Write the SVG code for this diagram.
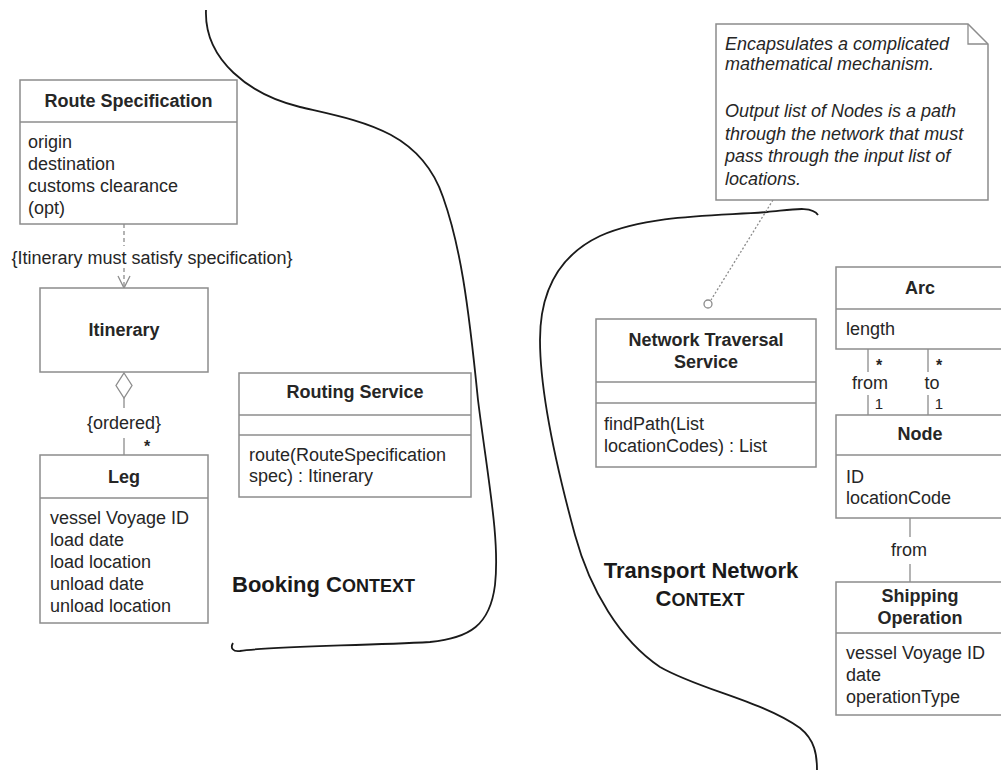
<svg xmlns="http://www.w3.org/2000/svg" width="1001" height="770" viewBox="0 0 1001 770">
<defs>
<style>
.box{fill:#fff;stroke:#8c8c8c;stroke-width:1.5}
.div{stroke:#8c8c8c;stroke-width:1.5}
.t{font-family:"Liberation Sans",Arial,sans-serif;font-size:18px;fill:#262626}
.b{font-weight:bold}
.c{text-anchor:middle}
.i{font-style:italic}
.m{font-family:"Liberation Sans",Arial,sans-serif;font-size:15px;fill:#262626;text-anchor:middle}
.st{font-weight:bold;font-size:16px}
.ctx{font-family:"Liberation Sans",Arial,sans-serif;font-size:22px;font-weight:bold;fill:#1a1a1a}
.ln{stroke:#8c8c8c;stroke-width:1.3;fill:none}
.curve{stroke:#1a1a1a;stroke-width:1.8;fill:none}
</style>
<marker id="open" markerWidth="16" markerHeight="14" refX="13" refY="7" orient="auto" markerUnits="userSpaceOnUse">
<path d="M1,1 L13,7 L1,13" fill="none" stroke="#8c8c8c" stroke-width="1.3"/>
</marker>
</defs>
<rect width="1001" height="770" fill="#fff"/>

<g id="boundaries">
<path class="curve" d="M206,10 C204,60 250,95 300,107 C360,121 420,130 443,197 C460,245 468,300 478,400 C488,480 500,540 495,585 C490,625 470,638 430,642 C360,646 270,646 240,651 C233,652 230,648 233,643"/>
<path class="curve" d="M818,215 C812,205 790,210 767,212 C720,216 650,214 600,236 C560,255 540,290 540,340 C540,400 560,480 575,535 C590,590 620,640 660,667 C700,690 760,700 800,728 C815,740 817,755 817,770"/>
</g>

<g id="connectors">
<line class="ln" x1="124" y1="224" x2="124" y2="246" stroke-dasharray="4,3"/>
<line class="ln" x1="124" y1="268" x2="124" y2="288" stroke-dasharray="4,3" marker-end="url(#open)"/>
<text class="t c" x="152" y="264">{Itinerary must satisfy specification}</text>
<path class="ln" d="M124,373 L132,385.5 L124,398 L116,385.5 Z" fill="#fff"/>
<line class="ln" x1="124" y1="398" x2="124" y2="408"/>
<text class="t c" x="124" y="429">{ordered}</text>
<line class="ln" x1="124" y1="438" x2="124" y2="455"/>
<text class="m st" x="147" y="452">*</text>
<line class="ln" x1="868" y1="349" x2="868" y2="372"/>
<line class="ln" x1="868" y1="395" x2="868" y2="415"/>
<text class="m st" x="879" y="371">*</text>
<text class="t c" x="870" y="389">from</text>
<text class="m" x="879" y="409">1</text>
<line class="ln" x1="928" y1="349" x2="928" y2="372"/>
<line class="ln" x1="928" y1="395" x2="928" y2="415"/>
<text class="m st" x="939" y="371">*</text>
<text class="t c" x="932" y="389">to</text>
<text class="m" x="939" y="409">1</text>
<line class="ln" x1="910" y1="518" x2="910" y2="537"/>
<text class="t c" x="909" y="556">from</text>
<line class="ln" x1="910" y1="564" x2="910" y2="582"/>
<line class="ln" x1="773" y1="200" x2="711" y2="300" stroke-dasharray="2,2"/>
<circle cx="708" cy="304" r="4" fill="#fff" stroke="#8c8c8c" stroke-width="1.3"/>
</g>

<g id="route-specification">
<rect class="box" x="20" y="80" width="217" height="144"/>
<line class="div" x1="20" y1="122" x2="237" y2="122"/>
<text class="t b c" x="128.5" y="107">Route Specification</text>
<text class="t" x="28" y="148">origin</text>
<text class="t" x="28" y="170">destination</text>
<text class="t" x="28" y="192">customs clearance</text>
<text class="t" x="28" y="214">(opt)</text>
</g>

<g id="itinerary">
<rect class="box" x="40" y="288" width="168" height="84"/>
<text class="t b c" x="124" y="336">Itinerary</text>
</g>

<g id="leg">
<rect class="box" x="40" y="455" width="168" height="168"/>
<line class="div" x1="40" y1="498" x2="208" y2="498"/>
<text class="t b c" x="124" y="483">Leg</text>
<text class="t" x="50" y="524">vessel Voyage ID</text>
<text class="t" x="50" y="546">load date</text>
<text class="t" x="50" y="568">load location</text>
<text class="t" x="50" y="590">unload date</text>
<text class="t" x="50" y="612">unload location</text>
</g>

<g id="routing-service">
<rect class="box" x="239" y="373" width="232" height="124"/>
<line class="div" x1="239" y1="415" x2="471" y2="415"/>
<line class="div" x1="239" y1="435" x2="471" y2="435"/>
<text class="t b c" x="355" y="398">Routing Service</text>
<text class="t" x="249" y="461">route(RouteSpecification</text>
<text class="t" x="249" y="482">spec) : Itinerary</text>
</g>

<g id="booking-context">
<text class="ctx" x="232" y="592">Booking C<tspan font-size="18">ONTEXT</tspan></text>
</g>

<g id="note">
<path class="box" d="M716,24 L968,24 L988,44 L988,200 L716,200 Z"/>
<path class="ln" d="M968,24 L968,44 L988,44"/>
<text class="t i" x="725" y="50">Encapsulates a complicated</text>
<text class="t i" x="725" y="70">mathematical mechanism.</text>
<text class="t i" x="725" y="117">Output list of Nodes is a path</text>
<text class="t i" x="725" y="140">through the network that must</text>
<text class="t i" x="725" y="162">pass through the input list of</text>
<text class="t i" x="725" y="185">locations.</text>
</g>

<g id="network-traversal-service">
<rect class="box" x="596" y="319" width="220" height="148"/>
<line class="div" x1="596" y1="382" x2="816" y2="382"/>
<line class="div" x1="596" y1="403" x2="816" y2="403"/>
<text class="t b c" x="706" y="346">Network Traversal</text>
<text class="t b c" x="706" y="368">Service</text>
<text class="t" x="604" y="430">findPath(List</text>
<text class="t" x="604" y="452">locationCodes) : List</text>
</g>

<g id="arc">
<rect class="box" x="836" y="267" width="168" height="82"/>
<line class="div" x1="836" y1="309" x2="1004" y2="309"/>
<text class="t b c" x="920" y="294">Arc</text>
<text class="t" x="846" y="335">length</text>
</g>

<g id="node">
<rect class="box" x="836" y="415" width="168" height="103"/>
<line class="div" x1="836" y1="455" x2="1004" y2="455"/>
<text class="t b c" x="920" y="440">Node</text>
<text class="t" x="846" y="483">ID</text>
<text class="t" x="846" y="504">locationCode</text>
</g>

<g id="shipping-operation">
<rect class="box" x="836" y="582" width="168" height="133"/>
<line class="div" x1="836" y1="633" x2="1004" y2="633"/>
<text class="t b c" x="920" y="602">Shipping</text>
<text class="t b c" x="920" y="624">Operation</text>
<text class="t" x="846" y="659">vessel Voyage ID</text>
<text class="t" x="846" y="681">date</text>
<text class="t" x="846" y="703">operationType</text>
</g>

<g id="transport-network-context">
<text class="ctx" text-anchor="middle" x="701" y="578">Transport Network</text>
<text class="ctx" text-anchor="middle" x="700" y="606">C<tspan font-size="18">ONTEXT</tspan></text>
</g>
</svg>
